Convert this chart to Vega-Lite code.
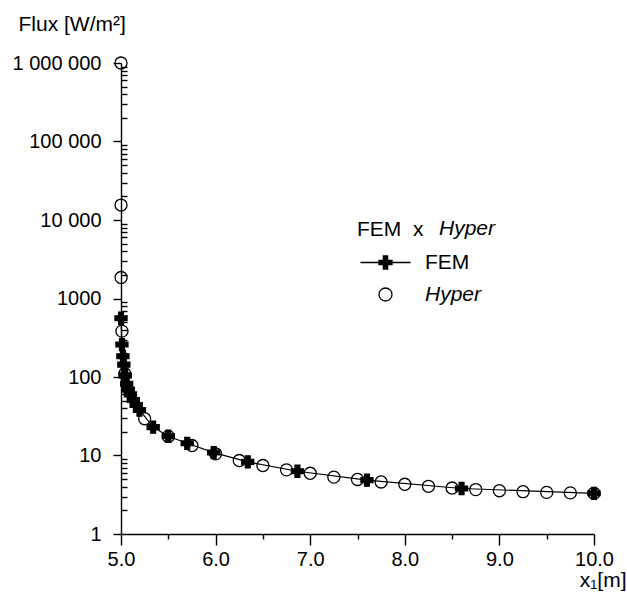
{
  "$schema": "https://vega.github.io/schema/vega-lite/v6.json",
  "width": 473,
  "height": 471,
  "autosize": "none",
  "padding": {"left": 121, "top": 63, "right": 33, "bottom": 62},
  "background": "white",
  "config": {
    "view": {"stroke": null},
    "font": "Liberation Sans",
    "axis": {
      "domainColor": "black",
      "domainWidth": 1.4,
      "tickColor": "black",
      "tickWidth": 1.4,
      "grid": false,
      "labelColor": "black",
      "labelFont": "Liberation Sans",
      "labelFontSize": 20,
      "titleColor": "black",
      "titleFont": "Liberation Sans",
      "titleFontSize": 21,
      "titleFontWeight": "normal"
    },
    "legend": {
      "orient": "none",
      "padding": 0,
      "titleFontSize": 21,
      "titleFont": "Liberation Sans",
      "titleFontWeight": "normal",
      "titleColor": "black",
      "titlePadding": 12,
      "labelFontSize": 21,
      "labelFont": "Liberation Sans",
      "labelColor": "black",
      "symbolSize": 169,
      "symbolStrokeWidth": 1.3
    }
  },
  "data": {
    "values": [
      {"series": "Hyper", "x": 5.0, "flux": 1000000},
      {"series": "Hyper", "x": 5.0001, "flux": 15500},
      {"series": "Hyper", "x": 5.001, "flux": 1850},
      {"series": "Hyper", "x": 5.01, "flux": 384},
      {"series": "Hyper", "x": 5.04, "flux": 110},
      {"series": "Hyper", "x": 5.25, "flux": 29.4},
      {"series": "Hyper", "x": 5.5, "flux": 17.5},
      {"series": "Hyper", "x": 5.75, "flux": 13.4},
      {"series": "Hyper", "x": 6.0, "flux": 10.5},
      {"series": "Hyper", "x": 6.25, "flux": 8.63},
      {"series": "Hyper", "x": 6.5, "flux": 7.45},
      {"series": "Hyper", "x": 6.75, "flux": 6.56},
      {"series": "Hyper", "x": 7.0, "flux": 5.94},
      {"series": "Hyper", "x": 7.25, "flux": 5.3},
      {"series": "Hyper", "x": 7.5, "flux": 4.95},
      {"series": "Hyper", "x": 7.75, "flux": 4.6},
      {"series": "Hyper", "x": 8.0, "flux": 4.3},
      {"series": "Hyper", "x": 8.25, "flux": 4.05},
      {"series": "Hyper", "x": 8.5, "flux": 3.85},
      {"series": "Hyper", "x": 8.75, "flux": 3.68},
      {"series": "Hyper", "x": 9.0, "flux": 3.56},
      {"series": "Hyper", "x": 9.25, "flux": 3.46},
      {"series": "Hyper", "x": 9.5, "flux": 3.39},
      {"series": "Hyper", "x": 9.75, "flux": 3.34},
      {"series": "Hyper", "x": 10.0, "flux": 3.3},
      {"series": "FEM", "x": 5.0, "flux": 560},
      {"series": "FEM", "x": 5.01, "flux": 259},
      {"series": "FEM", "x": 5.02, "flux": 184},
      {"series": "FEM", "x": 5.03, "flux": 144},
      {"series": "FEM", "x": 5.045, "flux": 105},
      {"series": "FEM", "x": 5.06, "flux": 82},
      {"series": "FEM", "x": 5.077, "flux": 69},
      {"series": "FEM", "x": 5.1, "flux": 60},
      {"series": "FEM", "x": 5.13, "flux": 51},
      {"series": "FEM", "x": 5.16, "flux": 44},
      {"series": "FEM", "x": 5.195, "flux": 38},
      {"series": "FEM", "x": 5.34, "flux": 23},
      {"series": "FEM", "x": 5.5, "flux": 17.6},
      {"series": "FEM", "x": 5.7, "flux": 14.3},
      {"series": "FEM", "x": 5.98, "flux": 10.9},
      {"series": "FEM", "x": 6.34, "flux": 8.3},
      {"series": "FEM", "x": 6.865, "flux": 6.3},
      {"series": "FEM", "x": 7.6, "flux": 4.85},
      {"series": "FEM", "x": 8.6, "flux": 3.8},
      {"series": "FEM", "x": 10.0, "flux": 3.3}
    ]
  },
  "encoding": {
    "x": {
      "field": "x",
      "type": "quantitative",
      "scale": {"domain": [5, 10], "nice": false, "zero": false},
      "axis": {
        "title": "x₁[m]",
        "values": [5, 5.5, 6, 6.5, 7, 7.5, 8, 8.5, 9, 9.5, 10],
        "labelExpr": "datum.value % 1 === 0 ? format(datum.value, '.1f') : ''",
        "tickSize": {"condition": {"test": "datum.value % 1 === 0", "value": 11}, "value": 5},
        "labelPadding": 4,
        "labelFlush": false,
        "labelOverlap": false,
        "titleAlign": "right",
        "titleAnchor": null,
        "titleX": 505,
        "titleY": 46,
        "titleBaseline": "middle"
      }
    },
    "y": {
      "field": "flux",
      "type": "quantitative",
      "scale": {"type": "log", "domain": [1, 1000000], "nice": false},
      "axis": {
        "title": "Flux [W/m²]",
        "values": [1,2,3,4,5,6,7,8,9,10,20,30,40,50,60,70,80,90,100,200,300,400,500,600,700,800,900,1000,2000,3000,4000,5000,6000,7000,8000,9000,10000,20000,30000,40000,50000,60000,70000,80000,90000,100000,200000,300000,400000,500000,600000,700000,800000,900000,1000000],
        "labelExpr": "datum.value == 1000000 ? '1 000 000' : datum.value == 100000 ? '100 000' : datum.value == 10000 ? '10 000' : datum.value == 1000 ? '1000' : datum.value == 100 ? '100' : datum.value == 10 ? '10' : datum.value == 1 ? '1' : ''",
        "tickSize": {"condition": {"test": "indexof([1,10,100,1000,10000,100000,1000000], datum.value) >= 0", "value": 8}, "value": -6},
        "labelPadding": 12,
        "labelFlush": false,
        "labelOverlap": false,
        "labelBaseline": "middle",
        "titleAngle": 0,
        "titleAlign": "left",
        "titleAnchor": null,
        "titleX": -103,
        "titleY": -39,
        "titleBaseline": "middle"
      }
    }
  },
  "resolve": {
    "scale": {"shape": "independent", "fill": "independent", "stroke": "independent"},
    "legend": {"shape": "independent", "fill": "independent", "stroke": "independent"}
  },
  "layer": [
    {
      "transform": [{"filter": "datum.series === 'FEM'"}],
      "mark": {"type": "line", "color": "black", "strokeWidth": 1.2}
    },
    {
      "mark": {"type": "point", "stroke": "black", "strokeWidth": 1.3, "opacity": 1, "size": 145},
      "encoding": {
        "shape": {"field": "series", "type": "nominal", "scale": {"domain": ["FEM", "Hyper"], "range": ["cross", "circle"]}, "legend": null},
        "fill": {"field": "series", "type": "nominal", "scale": {"domain": ["FEM", "Hyper"], "range": ["black", "transparent"]}, "legend": null}
      }
    },
    {
      "transform": [{"filter": "datum.series === 'FEM' && datum.x === 10"}],
      "mark": {"type": "point", "strokeWidth": 1.3, "opacity": 1, "size": 1},
      "encoding": {
        "shape": {"field": "series", "type": "nominal", "scale": {"domain": ["FEM"], "range": ["M-3.85,0H3.85M-1,-0.333H-0.333V-1H0.333V-0.333H1V0.333H0.333V1H-0.333V0.333H-1Z"]},
          "legend": {"title": "FEM\u00a0\u00a0x", "legendX": 236, "legendY": 156, "symbolOffset": 18, "labelOffset": 29}},
        "fill": {"field": "series", "type": "nominal", "scale": {"domain": ["FEM"], "range": ["black"]},
          "legend": {"title": "FEM\u00a0\u00a0x", "legendX": 236, "legendY": 156, "symbolOffset": 18, "labelOffset": 29}},
        "stroke": {"field": "series", "type": "nominal", "scale": {"domain": ["FEM"], "range": ["black"]},
          "legend": {"title": "FEM\u00a0\u00a0x", "legendX": 236, "legendY": 156, "symbolOffset": 18, "labelOffset": 29}}
      }
    },
    {
      "transform": [{"filter": "datum.series === 'Hyper' && datum.x === 10"}],
      "mark": {"type": "point", "strokeWidth": 1.3, "opacity": 1, "size": 1},
      "encoding": {
        "shape": {"field": "series", "type": "nominal", "scale": {"domain": ["Hyper"], "range": ["circle"]},
          "legend": {"title": null, "legendX": 236, "legendY": 221, "symbolOffset": 18, "labelOffset": 29, "labelFontStyle": "italic"}},
        "fill": {"field": "series", "type": "nominal", "scale": {"domain": ["Hyper"], "range": ["transparent"]},
          "legend": {"title": null, "legendX": 236, "legendY": 221, "symbolOffset": 18, "labelOffset": 29, "labelFontStyle": "italic"}},
        "stroke": {"field": "series", "type": "nominal", "scale": {"domain": ["Hyper"], "range": ["black"]},
          "legend": {"title": null, "legendX": 236, "legendY": 221, "symbolOffset": 18, "labelOffset": 29, "labelFontStyle": "italic"}}
      }
    },
    {
      "transform": [{"filter": "datum.series === 'Hyper' && datum.x === 10"}],
      "mark": {"type": "point", "strokeWidth": 0, "opacity": 1, "size": 1},
      "encoding": {
        "shape": {"field": "series", "type": "nominal", "scale": {"domain": ["Hyper"], "range": ["circle"]},
          "legend": {"title": null, "legendX": 236, "legendY": 155, "symbolSize": 1, "labelOffset": 61, "labelFontStyle": "italic"}},
        "fill": {"field": "series", "type": "nominal", "scale": {"domain": ["Hyper"], "range": ["transparent"]},
          "legend": {"title": null, "legendX": 236, "legendY": 155, "symbolSize": 1, "labelOffset": 61, "labelFontStyle": "italic"}},
        "stroke": {"field": "series", "type": "nominal", "scale": {"domain": ["Hyper"], "range": ["transparent"]},
          "legend": {"title": null, "legendX": 236, "legendY": 155, "symbolSize": 1, "labelOffset": 61, "labelFontStyle": "italic"}}
      }
    }
  ]
}
